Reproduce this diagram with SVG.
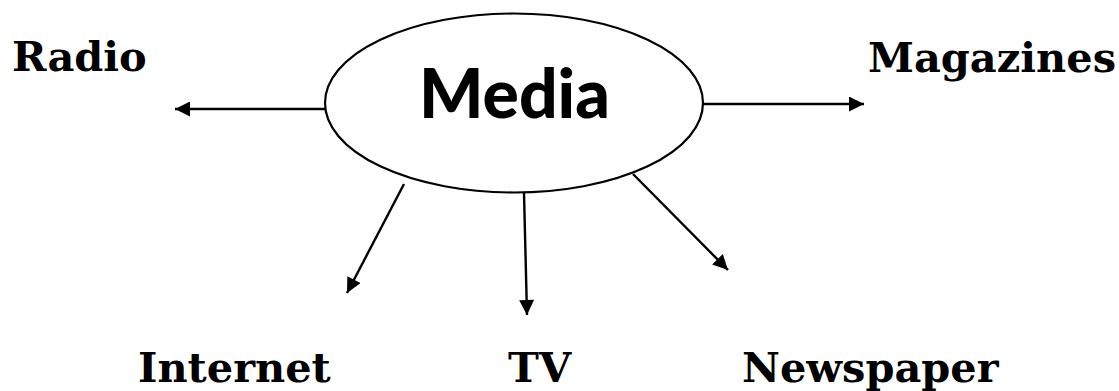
<svg xmlns="http://www.w3.org/2000/svg" width="1119" height="391" viewBox="0 0 1119 391">
<style>
.lbl{font-family:"DejaVu Serif","Liberation Serif",serif;font-weight:bold;font-size:41.5px;fill:#000}
.conn line{stroke:#000;stroke-width:2.4;fill:none}
</style>
<defs>
<marker id="ah" viewBox="0 0 10 10" refX="10" refY="5" markerWidth="16" markerHeight="15" markerUnits="userSpaceOnUse" orient="auto">
<path d="M0,0 L10,5 L0,10 z" fill="#000"/>
</marker>
</defs>
<rect width="1119" height="391" fill="#fff"/>
<g id="media">
<ellipse cx="514" cy="103" rx="189" ry="89.5" fill="#fff" stroke="#000" stroke-width="2.2"/>
<text x="514.5" y="118" text-anchor="middle" textLength="191" lengthAdjust="spacingAndGlyphs" style="font-family:Lato,'Open Sans','Liberation Sans',sans-serif;font-weight:900;font-size:69px">Media</text>
</g>
<g class="conn">
<line x1="325" y1="109" x2="175" y2="109" marker-end="url(#ah)"/>
<line x1="703" y1="104" x2="864" y2="104" marker-end="url(#ah)"/>
<line x1="404" y1="184" x2="347" y2="293" marker-end="url(#ah)"/>
<line x1="524" y1="193" x2="527" y2="315" marker-end="url(#ah)"/>
<line x1="633" y1="174" x2="728" y2="270" marker-end="url(#ah)"/>
</g>
<g id="radio"><text class="lbl" x="12" y="71">Radio</text></g>
<g id="magazines"><text class="lbl" x="868" y="72">Magazines</text></g>
<g id="internet"><text class="lbl" x="138" y="382">Internet</text></g>
<g id="tv"><text class="lbl" x="508" y="382">TV</text></g>
<g id="newspaper"><text class="lbl" x="742" y="382">Newspaper</text></g>
</svg>
